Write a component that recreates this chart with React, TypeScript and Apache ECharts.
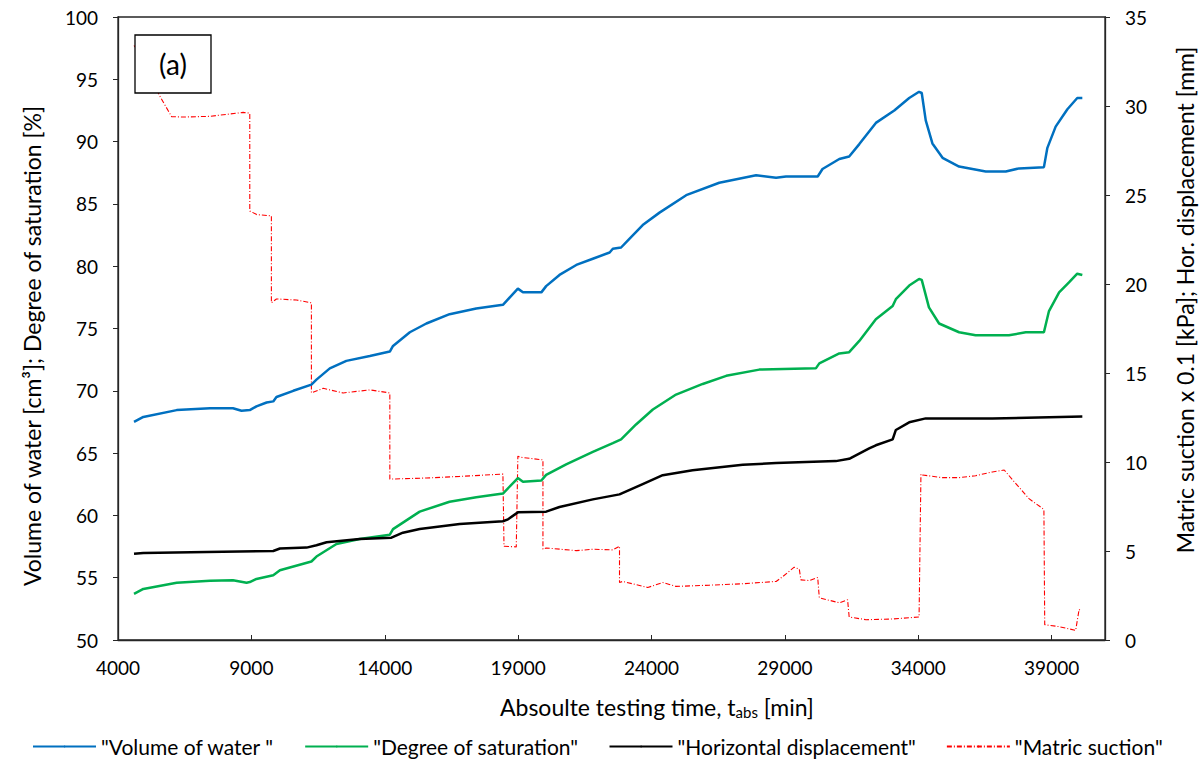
import React, { useEffect, useRef } from "react";
import * as echarts from "echarts";

// time [min]
const waterT = [4600, 4950, 6200, 7450, 8310, 8630, 8940, 9190, 9570, 9820, 9940, 10570, 11250, 11440, 11940, 12560, 13440, 14190, 14310, 14940, 15560, 16430, 17430, 18430, 18990, 19180, 19870, 20050, 20550, 21180, 21800, 22430, 22550, 22860, 23170, 23670, 24300, 25300, 26540, 27920, 28670, 29040, 30230, 30410, 31040, 31410, 31790, 32410, 33100, 33660, 34030, 34130, 34280, 34530, 34910, 35530, 36530, 37280, 37780, 38710, 38840, 39150, 39590, 39960, 40150];
const waterV = [67.5, 67.9, 68.45, 68.6, 68.6, 68.4, 68.45, 68.75, 69.06, 69.15, 69.5, 70.0, 70.5, 70.9, 71.8, 72.4, 72.8, 73.15, 73.6, 74.7, 75.4, 76.15, 76.6, 76.9, 78.2, 77.9, 77.9, 78.4, 79.3, 80.1, 80.6, 81.1, 81.4, 81.5, 82.2, 83.3, 84.3, 85.7, 86.7, 87.3, 87.1, 87.2, 87.2, 87.8, 88.6, 88.8, 89.8, 91.5, 92.5, 93.5, 94.0, 93.9, 91.7, 89.85, 88.7, 88.0, 87.6, 87.6, 87.85, 87.95, 89.5, 91.2, 92.6, 93.5, 93.5];

const satT = [4600, 4950, 6200, 7450, 8310, 8820, 8940, 9190, 9820, 10070, 11250, 11440, 12190, 13060, 14190, 14310, 15310, 16430, 17430, 18430, 18990, 19180, 19870, 20050, 20800, 21800, 22550, 22860, 23420, 24050, 24920, 25920, 26800, 28040, 30160, 30290, 31040, 31410, 31790, 32410, 33040, 33160, 33660, 34030, 34130, 34400, 34780, 35530, 36150, 37400, 38030, 38710, 38900, 39280, 39650, 39960, 40150];
const satV = [53.7, 54.1, 54.6, 54.75, 54.8, 54.6, 54.65, 54.9, 55.2, 55.6, 56.3, 56.7, 57.7, 58.1, 58.45, 58.9, 60.3, 61.1, 61.45, 61.75, 63.0, 62.7, 62.8, 63.25, 64.1, 65.1, 65.8, 66.1, 67.3, 68.5, 69.7, 70.55, 71.2, 71.7, 71.8, 72.2, 73.0, 73.1, 74.0, 75.75, 76.8, 77.35, 78.45, 78.97, 78.9, 76.7, 75.4, 74.7, 74.45, 74.45, 74.7, 74.7, 76.4, 77.9, 78.7, 79.4, 79.3];

const dispT = [4600, 4950, 7320, 9820, 10070, 11070, 11440, 11820, 13060, 14250, 14680, 15310, 16810, 18430, 18620, 18990, 20050, 20550, 21800, 22800, 23670, 24420, 25540, 27420, 28670, 30910, 31410, 32160, 32410, 33040, 33160, 33660, 34280, 36780, 40150];
const dispV = [4.84, 4.89, 4.95, 5.0, 5.14, 5.19, 5.32, 5.49, 5.68, 5.75, 6.03, 6.24, 6.52, 6.67, 6.78, 7.17, 7.21, 7.47, 7.9, 8.18, 8.76, 9.26, 9.54, 9.84, 9.94, 10.05, 10.18, 10.76, 10.94, 11.27, 11.8, 12.23, 12.45, 12.45, 12.55];

const suctT = [4600, 4800, 5550, 6010, 6450, 7450, 8690, 8940, 8940, 9200, 9750, 9750, 9940, 10690, 11250, 11250, 11690, 12440, 13440, 14190, 14190, 15560, 16810, 18430, 18470, 18930, 18990, 19060, 19930, 19930, 20050, 21180, 21800, 22550, 22800, 22800, 22920, 23860, 24420, 24920, 26170, 27420, 28670, 28910, 29350, 29540, 29600, 29910, 30230, 30290, 31040, 31350, 31410, 32040, 33040, 34030, 34100, 34160, 34910, 35530, 36150, 36780, 37220, 37650, 38150, 38650, 38710, 38740, 39280, 39900, 40030, 40090];
const suctV = [33.4, 33.0, 30.6, 29.4, 29.38, 29.42, 29.64, 29.6, 24.1, 23.9, 23.83, 18.94, 19.16, 19.1, 18.94, 13.88, 14.14, 13.88, 14.05, 13.88, 9.04, 9.1, 9.19, 9.32, 5.27, 5.23, 10.33, 10.27, 10.12, 5.1, 5.17, 5.02, 5.1, 5.06, 5.27, 3.23, 3.29, 2.95, 3.23, 3.01, 3.08, 3.16, 3.29, 3.55, 4.09, 3.98, 3.38, 3.34, 3.51, 2.37, 2.09, 2.26, 1.29, 1.14, 1.18, 1.29, 9.33, 9.27, 9.12, 9.12, 9.23, 9.44, 9.55, 8.8, 7.94, 7.4, 7.3, 0.86, 0.75, 0.54, 1.72, 1.61];

const seriesNames = ['"Volume of water "', '"Degree of saturation"', '"Horizontal displacement"', '"Matric suction"'];
const leftTitle = "Volume of water [cm³]; Degree of saturation [%]";
const rightTitle = "Matric suction x 0.1 [kPa]; Hor. displacement [mm]";

const zip = (t: number[], v: number[]) => t.map((x, i) => [x, v[i]]);

const FONT = "Lato";

export default function App() {
  const ref = useRef<HTMLDivElement>(null);
  useEffect(() => {
    if (!ref.current) return;
    const chart = echarts.init(ref.current, undefined, { renderer: "svg" });
    const axisLine = { show: true, lineStyle: { color: "#262626", width: 1.3 } };
    chart.setOption({
      animation: false,
      backgroundColor: "#fff",
      textStyle: { fontFamily: FONT },
      grid: { left: 118, right: 98, top: 17, bottom: 123, show: true, borderColor: "#262626", borderWidth: 1.3 },
      legend: {
        left: 27,
        top: 731,
        itemWidth: 63,
        itemHeight: 2,
        itemGap: 30,
        textStyle: { fontFamily: FONT, fontSize: 21, color: "#000" },
        data: seriesNames,
      },
      xAxis: {
        type: "value",
        min: 4000,
        max: 41000,
        interval: 5000,
        axisLine,
        axisTick: { show: true, inside: true, length: 5, lineStyle: { color: "#262626" } },
        splitLine: { show: false },
        axisLabel: {
          margin: 18,
          fontSize: 19,
          color: "#000",
          fontFamily: FONT,
          showMaxLabel: false,
          formatter: (v: number) => (v > 40000 ? "" : String(v)),
        },
      },
      yAxis: [
        {
          type: "value",
          min: 50,
          max: 100,
          interval: 5,
          axisLine,
          axisTick: { show: true, length: 5, lineStyle: { color: "#262626" } },
          splitLine: { show: false },
          axisLabel: { margin: 20, fontSize: 19, color: "#000", fontFamily: FONT },
        },
        {
          type: "value",
          min: 0,
          max: 35,
          interval: 5,
          position: "right",
          axisLine,
          axisTick: { show: true, length: 5, lineStyle: { color: "#262626" } },
          splitLine: { show: false },
          axisLabel: { margin: 20, fontSize: 19, color: "#000", fontFamily: FONT },
        },
      ],
      series: [
        {
          name: seriesNames[0],
          type: "line",
          yAxisIndex: 0,
          data: zip(waterT, waterV),
          symbol: "none",
          lineStyle: { color: "#0070C0", width: 2.5 },
          itemStyle: { color: "#0070C0" },
          z: 4,
        },
        {
          name: seriesNames[1],
          type: "line",
          yAxisIndex: 0,
          data: zip(satT, satV),
          symbol: "none",
          lineStyle: { color: "#00B050", width: 2.5 },
          itemStyle: { color: "#00B050" },
          z: 4,
        },
        {
          name: seriesNames[2],
          type: "line",
          yAxisIndex: 1,
          data: zip(dispT, dispV),
          symbol: "none",
          lineStyle: { color: "#000000", width: 2.5 },
          itemStyle: { color: "#000000" },
          z: 5,
        },
        {
          name: seriesNames[3],
          type: "line",
          yAxisIndex: 1,
          data: zip(suctT, suctV),
          symbol: "none",
          lineStyle: { color: "#FF0000", width: 1.1, type: [5, 2, 1, 2] },
          itemStyle: { color: "#FF0000" },
          z: 3,
        },
      ],
      graphic: [
        {
          type: "text",
          left: 500,
          top: 695,
          z: 100,
          style: {
            text: "{a|Absoulte testing time, t}{s|abs}{a| [min]}",
            rich: {
              a: { fontSize: 23, fontFamily: FONT, fill: "#000" },
              s: { fontSize: 15, fontFamily: FONT, fill: "#000", padding: [11, 0, 0, 0] },
            },
          },
        },
        {
          type: "text",
          z: 100,
          x: 32,
          y: 346,
          rotation: Math.PI / 2,
          style: { text: leftTitle, fontSize: 23, fontFamily: FONT, fill: "#000", align: "center", verticalAlign: "middle" },
        },
        {
          type: "text",
          z: 100,
          x: 1185,
          y: 300,
          rotation: Math.PI / 2,
          style: { text: rightTitle, fontSize: 23, fontFamily: FONT, fill: "#000", align: "center", verticalAlign: "middle" },
        },
        {
          type: "rect",
          z: 100,
          shape: { x: 135, y: 35, width: 76, height: 58 },
          style: { fill: "#fff", stroke: "#000", lineWidth: 1.3 },
        },
        {
          type: "text",
          z: 101,
          x: 173,
          y: 64,
          style: { text: "(a)", fontSize: 28, fontFamily: FONT, fill: "#000", align: "center", verticalAlign: "middle" },
        },
      ],
    });
    return () => chart.dispose();
  }, []);
  return <div ref={ref} style={{ position: "fixed", left: 0, top: 0, width: 1203, height: 763 }} />;
}
